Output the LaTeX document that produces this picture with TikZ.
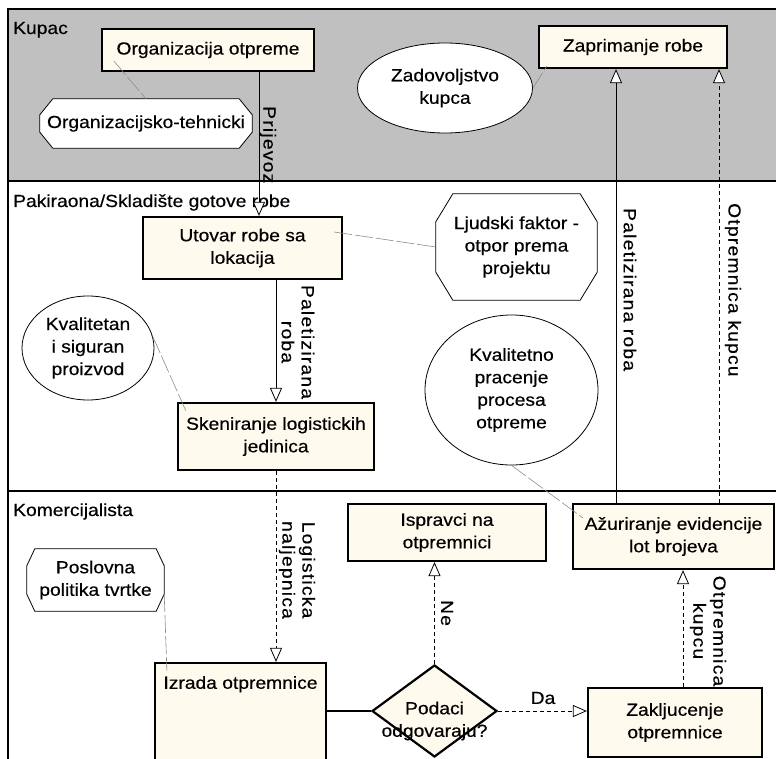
\documentclass[tikz,border=0pt]{standalone}
\usepackage{fontspec}
\setmainfont[FakeStretch=1.1, FakeBold=0.4]{Liberation Sans}
\newfontfamily\flowfont[FakeStretch=1.1, FakeBold=0.4, LetterSpace=7]{Liberation Sans}
\usetikzlibrary{calc,arrows.meta,shapes.geometric,backgrounds}

\definecolor{lanegrey}{RGB}{192,192,192}
\definecolor{taskfill}{RGB}{255,250,238}
\definecolor{notegrey}{RGB}{140,140,140}

% chamfered outline behind a named note node: #1 node, #2 x-chamfer, #3 y-chamfer
\newcommand\octoutline[3]{%
  \begin{scope}[on background layer]
  \draw[line width=0.8pt, fill=white]
    ($(#1.north west)+(#2,0)$) -- ($(#1.north east)+(-#2,0)$) --
    ($(#1.north east)+(0,#3)$) -- ($(#1.south east)+(0,-#3)$) --
    ($(#1.south east)+(-#2,0)$) -- ($(#1.south west)+(#2,0)$) --
    ($(#1.south west)+(0,-#3)$) -- ($(#1.north west)+(0,#3)$) -- cycle;
  \end{scope}}

\begin{document}
\begin{tikzpicture}[x=1pt,y=-1pt,
  every node/.style={font=\fontsize{17.5}{22.5}\selectfont, inner sep=0pt},
  task/.style={draw, line width=2.2pt, fill=taskfill, align=center, rectangle},
  note/.style={draw, line width=0.8pt, fill=white, ellipse, align=center},
  octanote/.style={rectangle, align=center},
  flowlbl/.style={font=\flowfont\fontsize{17.5}{20}\selectfont, rotate=-90, align=center},
  tip/.style={-{Triangle[fill=white,length=14pt,width=12pt,line width=0.8pt]}},
  flow/.style={line width=0.9pt, tip},
  dflow/.style={line width=0.9pt, dash pattern=on 4pt off 3pt, tip},
  annot/.style={draw=notegrey, line width=0.6pt, dash pattern=on 18pt off 3pt},
  lane/.style={line width=2pt}
]
\useasboundingbox (0,0) rectangle (776,759);

% swimlanes
\begin{scope}[on background layer]
  \fill[lanegrey] (8,9) rectangle (800,181);
\end{scope}
\draw[lane] (8,800) -- (8,9) -- (800,9);
\draw[lane] (8,181) -- (800,181);
\draw[lane] (8,491) -- (800,491);

\node[anchor=base west] (lkupac) at (13,34) {Kupac};
\node[anchor=base west] (lpak) at (13,207) {Pakiraona/Skladište gotove robe};
\node[anchor=base west] (lkom) at (13,516) {Komercijalista};

% Kupac
\node[task, minimum width=212pt, minimum height=42pt] (org) at (208,50) {Organizacija otpreme};
\node[octanote, minimum width=212pt, minimum height=49pt] (orgtech) at (146,123.5) {Organizacijsko-tehnicki};
\octoutline{orgtech}{13}{16}
\node[note, minimum width=175pt, minimum height=90pt] (zad) at (445,88) {Zadovoljstvo\\kupca};
\node[task, minimum width=188pt, minimum height=42pt] (zap) at (633,47) {Zaprimanje robe};

% Pakiraona / Skladiste
\node[task, minimum width=199pt, minimum height=62pt] (utov) at (242.5,248) {Utovar robe sa\\lokacija};
\node[octanote, minimum width=161pt, minimum height=106pt] (ljud) at (516.5,247) {Ljudski faktor -\\otpor prema\\projektu};
\octoutline{ljud}{17}{28}
\node[note, minimum width=132pt, minimum height=104pt] (kval) at (88,348) {Kvalitetan\\i siguran\\proizvod};
\node[task, minimum width=196pt, minimum height=67pt] (sken) at (276,436.5) {Skeniranje logistickih\\jedinica};
\node[note, minimum width=173pt, minimum height=150pt] (kvno) at (511.5,390) {Kvalitetno\\pracenje\\procesa\\otpreme};

% Komercijalista
\node[task, minimum width=198pt, minimum height=57pt] (isp) at (447,532.5) {Ispravci na\\otpremnici};
\node[task, minimum width=201pt, minimum height=65pt] (azur) at (673.5,536.5) {Ažuriranje evidencije\\lot brojeva};
\node[octanote, minimum width=137pt, minimum height=62pt] (posl) at (95.5,580) {Poslovna\\politika tvrtke};
\octoutline{posl}{8}{17}
\node[task, minimum width=171pt, minimum height=137pt,
      label={[anchor=north, inner sep=0pt, yshift=-14pt]north:Izrada otpremnice}] (izr) at (240.5,731.5) {};
\node[diamond, draw, line width=2.2pt, fill=taskfill, minimum width=125pt, minimum height=92pt] (dec) at (434.5,711) {};
\node[align=center] (dectxt) at (434.5,721) {Podaci\\odgovaraju?};
\node[task, minimum width=174pt, minimum height=69pt] (zak) at (675,722.5) {Zakljucenje\\otpremnice};

% connector positions
\coordinate (xPrij) at (259,0);
\coordinate (xPal) at (616,0);
\coordinate (xOtp) at (719,0);
\coordinate (xZak) at (683,0);

% connectors
\draw[flow] (org.south -| xPrij) -- (utov.north -| xPrij);
\draw[flow] (sken.north |- utov.south) -- (sken.north);
\draw[dflow] (sken.south) -- (sken.south |- izr.north);
\draw[line width=2pt] (dec.west -| izr.east) -- (dec.west);
\draw[dflow] (dec.north) -- (dec.north |- isp.south);
\draw[dflow] (dec.east) -- (dec.east -| zak.west);
\draw[dflow] (zak.north -| xZak) -- (azur.south -| xZak);
\draw[flow] (azur.north -| xPal) -- (zap.south -| xPal);
\draw[dflow] (azur.north -| xOtp) -- (zap.south -| xOtp);

% connector labels
\node[flowlbl, anchor=west] (tPrij) at (268,106) {Prijevoz};
\node[flowlbl] (tPal1) at (298,342) {Paletizirana\\roba};
\node[flowlbl, anchor=west] (tPal2) at (630,208) {Paletizirana roba};
\node[flowlbl, anchor=west] (tOtp1) at (733,203) {Otpremnica kupcu};
\node[flowlbl] (tLog) at (297,570) {Logisticka\\naljepnica};
\node[flowlbl] (tNe) at (447,613) {Ne};
\node[flowlbl] (tOtp2) at (708,631) {Otpremnica\\kupcu};
\node (tDa) at (543,698) {Da};

% annotation links
\draw[annot] ($(org.south west)+(13,-11)$) -- (orgtech.north);
\draw[annot] (zad.east) -- ($(zap.south west)+(9,-3)$);
\draw[annot] ($(utov.east)+(-9,-16)$) -- (ljud.west);
\draw[annot] (kval.10) -- ($(sken.north west)+(9,9)$);
\draw[annot] (kvno.south) -- ($(azur.north west)+(11,15)$);
\draw[annot] ($(posl.south east)+(0,-17)$) -- ($(izr.north west)+(13,9)$);
\end{tikzpicture}
\end{document}
